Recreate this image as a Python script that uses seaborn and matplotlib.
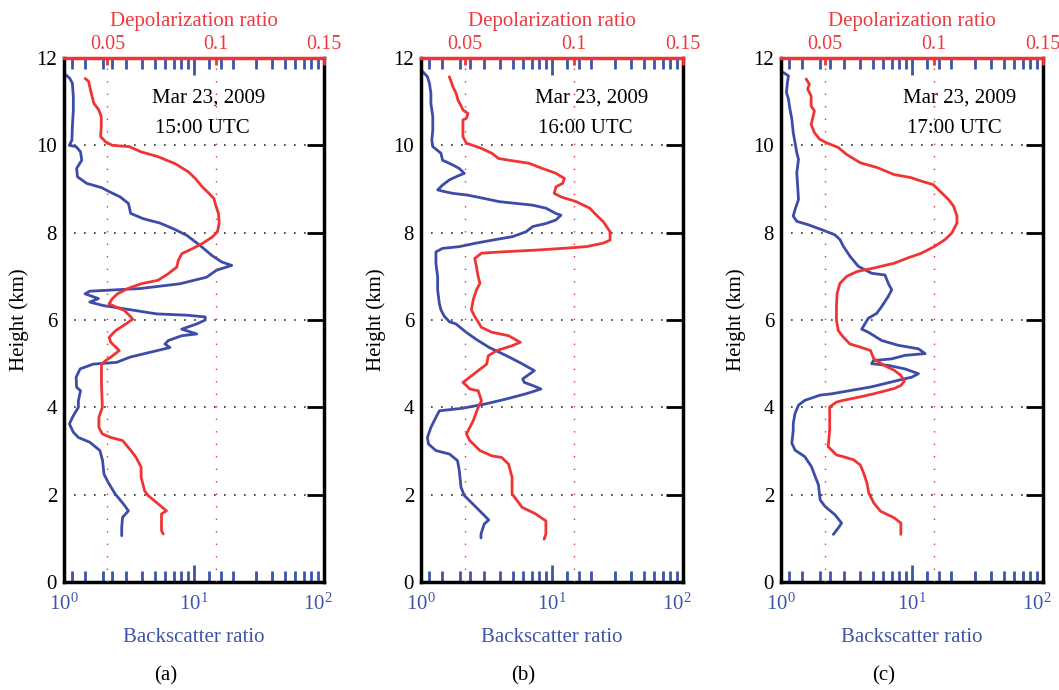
import matplotlib
matplotlib.use("Agg")
import matplotlib.pyplot as plt
import matplotlib.transforms as mtransforms
import seaborn as sns
import pandas as pd
from matplotlib.ticker import FixedLocator, NullFormatter

# ---------------- data ----------------
panel_labels = ["(a)", "(b)", "(c)"]
time_labels = ["15:00 UTC", "16:00 UTC", "17:00 UTC"]
date_label = "Mar 23, 2009"

a_bs_height = [11.63, 11.53, 11.42, 11.11, 10.81, 10.43, 10.12, 10.00, 9.97, 9.85,
               9.66, 9.47, 9.28, 9.13, 9.03, 8.93, 8.82, 8.67, 8.44, 8.32,
               8.22, 8.09, 7.94, 7.71, 7.48, 7.33, 7.25, 7.14, 6.98, 6.83,
               6.72, 6.66, 6.60, 6.49, 6.41, 6.33, 6.26, 6.14, 6.11, 6.07,
               6.00, 5.91, 5.79, 5.68, 5.64, 5.53, 5.45, 5.37, 5.26, 5.15,
               5.03, 4.99, 4.88, 4.69, 4.46, 4.38, 4.15, 4.00, 3.81, 3.62,
               3.43, 3.31, 3.20, 3.01, 2.78, 2.47, 2.28, 2.02, 1.79, 1.63,
               1.48, 1.25, 1.06]
a_backscatter = [1.02, 1.11, 1.16, 1.18, 1.18, 1.16, 1.15, 1.10, 1.24, 1.34,
                 1.37, 1.25, 1.27, 1.49, 1.95, 2.26, 2.70, 3.13, 3.26, 4.07,
                 5.47, 6.93, 8.79, 11.1, 13.7, 16.3, 19.5, 14.9, 12.5, 7.80,
                 3.85, 1.58, 1.45, 1.84, 1.58, 2.01, 2.86, 5.16, 8.79, 12.2,
                 12.2, 10.5, 8.04, 10.5, 8.04, 6.35, 5.98, 6.53, 4.59, 3.22,
                 2.54, 1.68, 1.33, 1.24, 1.25, 1.34, 1.29, 1.29, 1.18, 1.10,
                 1.18, 1.29, 1.58, 1.89, 1.98, 2.03, 2.19, 2.47, 2.86, 3.13,
                 2.82, 2.78, 2.78]
a_dp_height = [11.53, 11.46, 11.27, 11.11, 10.96, 10.81, 10.65, 10.43, 10.20, 10.08,
               10.00, 9.97, 9.85, 9.74, 9.58, 9.39, 9.24, 9.05, 8.90, 8.78,
               8.63, 8.44, 8.21, 8.02, 7.90, 7.75, 7.63, 7.52, 7.37, 7.21,
               7.06, 6.91, 6.83, 6.72, 6.60, 6.49, 6.37, 6.30, 6.22, 6.07,
               6.02, 5.91, 5.76, 5.60, 5.49, 5.30, 5.15, 5.07, 4.99, 4.53,
               4.00, 3.77, 3.54, 3.39, 3.31, 3.24, 3.01, 2.85, 2.63, 2.40,
               2.09, 1.98, 1.82, 1.63, 1.56, 1.18, 1.10]
a_depol = [0.0398, 0.0414, 0.0422, 0.0430, 0.0438, 0.0461, 0.0472, 0.0472, 0.0469, 0.0492,
           0.0523, 0.0602, 0.0656, 0.0734, 0.0813, 0.0875, 0.0906, 0.0938, 0.0969, 0.0992,
           0.1000, 0.1013, 0.1016, 0.1008, 0.0984, 0.0938, 0.0891, 0.0844, 0.0828, 0.0820,
           0.0781, 0.0734, 0.0656, 0.0594, 0.0547, 0.0523, 0.0508, 0.0539, 0.0578, 0.0609,
           0.0617, 0.0586, 0.0539, 0.0508, 0.0516, 0.0555, 0.0516, 0.0492, 0.0473, 0.0473,
           0.0477, 0.0461, 0.0461, 0.0477, 0.0516, 0.0570, 0.0609, 0.0633, 0.0656, 0.0656,
           0.0672, 0.0688, 0.0727, 0.0773, 0.0750, 0.0750, 0.0758]

b_bs_height = [11.69, 11.57, 11.42, 11.19, 10.96, 10.66, 10.35, 10.12, 9.97, 9.82,
               9.66, 9.55, 9.47, 9.36, 9.28, 9.21, 9.09, 8.98, 8.94, 8.90,
               8.86, 8.79, 8.71, 8.67, 8.63, 8.56, 8.44, 8.40, 8.29, 8.21,
               8.14, 8.02, 7.91, 7.83, 7.76, 7.68, 7.64, 7.56, 7.30, 6.99,
               6.69, 6.38, 6.23, 6.08, 5.96, 5.91, 5.72, 5.56, 5.37, 5.26,
               5.15, 4.99, 4.84, 4.65, 4.57, 4.50, 4.42, 4.31, 4.19, 4.08,
               3.98, 3.92, 3.77, 3.54, 3.31, 3.16, 3.01, 2.93, 2.78, 2.55,
               2.17, 1.98, 1.79, 1.56, 1.42, 1.33, 1.10, 1.01]
b_backscatter = [1.03, 1.12, 1.16, 1.19, 1.19, 1.23, 1.23, 1.21, 1.23, 1.42,
                 1.46, 1.75, 1.96, 2.14, 1.85, 1.65, 1.46, 1.34, 1.51, 1.75,
                 2.27, 2.96, 3.96, 5.31, 7.12, 9.00, 10.7, 11.7, 10.7, 9.00,
                 7.12, 6.33, 5.01, 3.52, 2.63, 1.96, 1.46, 1.30, 1.30, 1.34,
                 1.34, 1.38, 1.42, 1.51, 1.65, 1.85, 2.21, 2.63, 3.32, 3.96,
                 4.72, 5.97, 7.33, 5.97, 6.15, 7.12, 8.24, 6.33, 4.46, 3.13,
                 2.08, 1.38, 1.30, 1.19, 1.12, 1.14, 1.30, 1.65, 1.90, 1.96,
                 2.02, 2.14, 2.48, 2.96, 3.29, 3.04, 2.87, 2.87]
b_dp_height = [11.57, 11.46, 11.34, 11.19, 11.04, 10.89, 10.81, 10.73, 10.62, 10.58,
               10.43, 10.20, 10.05, 10.01, 9.93, 9.82, 9.70, 9.66, 9.59, 9.47,
               9.36, 9.24, 9.13, 9.05, 8.90, 8.82, 8.71, 8.56, 8.40, 8.25,
               8.14, 8.02, 7.83, 7.76, 7.68, 7.64, 7.60, 7.56, 7.53, 7.41,
               7.22, 6.99, 6.84, 6.69, 6.46, 6.23, 6.08, 6.02, 5.83, 5.72,
               5.64, 5.49, 5.41, 5.30, 5.18, 4.99, 4.84, 4.69, 4.57, 4.50,
               4.42, 4.38, 4.15, 4.00, 3.69, 3.39, 3.24, 3.01, 2.89, 2.85,
               2.70, 2.40, 2.02, 1.71, 1.56, 1.40, 1.10, 0.98]
b_depol = [0.0430, 0.0438, 0.0446, 0.0461, 0.0469, 0.0485, 0.0492, 0.0515, 0.0508, 0.0492,
           0.0492, 0.0492, 0.0508, 0.0531, 0.0577, 0.0624, 0.0655, 0.0701, 0.0794, 0.0856,
           0.0918, 0.0957, 0.0949, 0.0918, 0.0910, 0.0941, 0.1011, 0.1073, 0.1104, 0.1135,
           0.1150, 0.1166, 0.1166, 0.1135, 0.1057, 0.0949, 0.0825, 0.0670, 0.0577, 0.0546,
           0.0554, 0.0562, 0.0570, 0.0554, 0.0539, 0.0531, 0.0546, 0.0554, 0.0577, 0.0624,
           0.0701, 0.0755, 0.0717, 0.0647, 0.0608, 0.0601, 0.0562, 0.0523, 0.0492, 0.0508,
           0.0523, 0.0562, 0.0577, 0.0562, 0.0539, 0.0508, 0.0523, 0.0570, 0.0624, 0.0670,
           0.0701, 0.0717, 0.0717, 0.0763, 0.0825, 0.0872, 0.0872, 0.0864]

c_bs_height = [11.67, 11.59, 11.44, 11.21, 11.06, 10.83, 10.60, 10.29, 10.06, 9.83,
               9.68, 9.37, 9.07, 8.76, 8.53, 8.38, 8.26, 8.18, 8.07, 7.95,
               7.84, 7.69, 7.46, 7.23, 7.07, 7.03, 6.84, 6.69, 6.54, 6.31,
               6.15, 6.04, 5.79, 5.72, 5.53, 5.42, 5.34, 5.23, 5.19, 5.11,
               5.07, 5.00, 4.96, 4.88, 4.77, 4.69, 4.62, 4.47, 4.39, 4.31,
               4.28, 4.16, 4.05, 3.86, 3.63, 3.48, 3.18, 3.02, 2.87, 2.64,
               2.42, 2.23, 1.88, 1.73, 1.54, 1.35, 1.24, 1.09]
c_backscatter = [1.04, 1.14, 1.12, 1.10, 1.14, 1.17, 1.21, 1.24, 1.28, 1.32,
                 1.36, 1.32, 1.34, 1.36, 1.28, 1.24, 1.32, 1.62, 2.04, 2.58,
                 2.82, 2.99, 3.36, 3.89, 4.92, 6.22, 6.59, 7.00, 6.59, 5.87,
                 5.37, 4.64, 4.13, 4.64, 5.87, 7.87, 11.2, 12.6, 8.84, 7.00,
                 5.07, 4.92, 6.59, 8.84, 11.2, 9.94, 7.87, 4.92, 3.46, 2.44,
                 1.99, 1.52, 1.36, 1.28, 1.24, 1.24, 1.21, 1.28, 1.52, 1.71,
                 1.82, 1.93, 1.99, 2.17, 2.58, 2.90, 2.74, 2.51]
c_dp_height = [11.52, 11.40, 11.29, 11.13, 10.90, 10.79, 10.64, 10.48, 10.29, 10.14,
               10.06, 9.95, 9.79, 9.60, 9.49, 9.33, 9.26, 9.18, 9.10, 8.99,
               8.76, 8.61, 8.38, 8.22, 7.99, 7.84, 7.69, 7.53, 7.42, 7.30,
               7.19, 7.11, 7.00, 6.84, 6.61, 6.31, 6.00, 5.76, 5.61, 5.45,
               5.38, 5.30, 5.11, 4.96, 4.85, 4.73, 4.60, 4.50, 4.43, 4.31,
               4.24, 4.16, 4.12, 4.01, 3.71, 3.48, 3.10, 2.91, 2.87, 2.80,
               2.68, 2.49, 2.26, 2.04, 1.81, 1.62, 1.47, 1.35, 1.09]
c_depol = [0.0415, 0.0430, 0.0422, 0.0438, 0.0438, 0.0453, 0.0446, 0.0438, 0.0453, 0.0477,
           0.0508, 0.0562, 0.0601, 0.0663, 0.0741, 0.0818, 0.0896, 0.0943, 0.0997, 0.1020,
           0.1067, 0.1090, 0.1106, 0.1106, 0.1082, 0.1051, 0.1005, 0.0943, 0.0880, 0.0818,
           0.0725, 0.0648, 0.0601, 0.0570, 0.0557, 0.0554, 0.0554, 0.0562, 0.0585, 0.0616,
           0.0663, 0.0710, 0.0725, 0.0772, 0.0818, 0.0849, 0.0865, 0.0849, 0.0818, 0.0725,
           0.0663, 0.0585, 0.0554, 0.0523, 0.0523, 0.0523, 0.0516, 0.0554, 0.0585, 0.0632,
           0.0663, 0.0679, 0.0694, 0.0702, 0.0725, 0.0756, 0.0818, 0.0849, 0.0849]

height_ticks = [0, 2, 4, 6, 8, 10, 12]
bs_major_ticks = [1, 10, 100]
bs_tick_labels = [r"$10^0$", r"$10^1$", r"$10^2$"]
bs_minor_ticks = [1.15, 1.45, 2, 2.35, 3, 4, 5, 6, 7, 8, 9,
                  13, 16, 20, 30, 40, 50, 60, 70, 80, 90]
dp_ticks = [0.05, 0.1, 0.15]
dp_tick_labels = ["0.05", "0.1", "0.15"]

panels = [
    (a_bs_height, a_backscatter, a_dp_height, a_depol),
    (b_bs_height, b_backscatter, b_dp_height, b_depol),
    (c_bs_height, c_backscatter, c_dp_height, c_depol),
]

# ---------------- style ----------------
sns.set_theme(style="white")
plt.rcParams["font.family"] = ["Liberation Serif", "DejaVu Serif"]
plt.rcParams["mathtext.fontset"] = "custom"
plt.rcParams["mathtext.rm"] = "Liberation Serif"
plt.rcParams["mathtext.it"] = "Liberation Serif:italic"

LINE_BLUE = "#3c4ca8"
TEXT_BLUE = "#3d55a8"
LINE_RED = "#f03434"
TEXT_RED = "#ee3a3e"
FS = 15

fig = plt.figure(figsize=(10.59, 6.90), dpi=100)
lefts_px = [64, 421, 781]
widths_px = [260, 262, 262]
text_x = [(0.338, 0.350), (0.435, 0.447), (0.466, 0.481)]

for i, (hb, bs, hd, dp) in enumerate(panels):
    ax = fig.add_axes([lefts_px[i] / 1059, 108 / 690, widths_px[i] / 1059, 524 / 690])
    ax.set_xscale("log")
    df_b = pd.DataFrame({"Backscatter ratio": bs, "Height": hb})
    sns.lineplot(data=df_b, x="Backscatter ratio", y="Height", ax=ax, sort=False,
                 estimator=None, color=LINE_BLUE, linewidth=2.0)
    ax.set_xlim(1, 100)
    ax.set_ylim(0, 12)

    axt = ax.twiny()
    df_d = pd.DataFrame({"Depolarization ratio": dp, "Height": hd})
    sns.lineplot(data=df_d, x="Depolarization ratio", y="Height", ax=axt, sort=False,
                 estimator=None, color=LINE_RED, linewidth=2.0)
    axt.set_xlim(0.03, 0.15)
    axt.set_ylim(0, 12)

    # backscatter axis (bottom + mirrored top ticks)
    ax.set_xticks(bs_major_ticks)
    ax.set_xticklabels(bs_tick_labels)
    ax.xaxis.set_minor_locator(FixedLocator(bs_minor_ticks))
    ax.xaxis.set_minor_formatter(NullFormatter())
    ax.tick_params(axis="x", which="both", bottom=True, top=True, direction="in",
                   color=TEXT_BLUE, width=2, labelcolor=TEXT_BLUE, labelsize=FS, pad=8.5)
    ax.tick_params(axis="x", which="major", length=12)
    ax.tick_params(axis="x", which="minor", length=8)
    ax.set_xlabel("Backscatter ratio", color=TEXT_BLUE, fontsize=FS, labelpad=9)
    # the last decade label sits a little to the left of its tick in the original
    last_lbl = ax.get_xticklabels()[-1]
    last_lbl.set_transform(last_lbl.get_transform() +
                           mtransforms.ScaledTranslation(-6 / 100, 0, fig.dpi_scale_trans))

    # height axis
    ax.set_yticks(height_ticks)
    ax.tick_params(axis="y", left=False, right=True, labelleft=True, labelright=False,
                   direction="in", length=12, width=2, color="black",
                   labelsize=FS, pad=5, labelcolor="black")
    ax.set_ylabel("Height (km)", fontsize=FS, labelpad=5, color="black")
    ax.grid(axis="y", color="#333333", linestyle=(0, (1, 5)), linewidth=1.2)
    ax.grid(axis="x", visible=False)

    for s in ["left", "bottom", "right"]:
        ax.spines[s].set_color("black")
        ax.spines[s].set_linewidth(2.5)
        ax.spines[s].set_visible(True)
    ax.spines["top"].set_visible(False)

    # depolarization axis on top
    axt.set_xticks(dp_ticks)
    axt.set_xticklabels(dp_tick_labels)
    axt.tick_params(axis="x", which="major", top=True, bottom=False, direction="in",
                    length=5, width=2, color=LINE_RED, labelcolor=TEXT_RED,
                    labelsize=FS - 0.5, pad=3)
    axt.xaxis.set_minor_locator(FixedLocator([]))
    axt.grid(axis="x", color=LINE_RED, linestyle=(0, (1, 8)), linewidth=1.0)
    axt.set_xlabel("Depolarization ratio", color=TEXT_RED, fontsize=FS, labelpad=6)
    axt.set_ylabel("")
    for s in ["left", "bottom", "right"]:
        axt.spines[s].set_visible(False)
    axt.spines["top"].set_visible(True)
    axt.spines["top"].set_color(LINE_RED)
    axt.spines["top"].set_linewidth(2.5)

    # annotations
    ax.text(text_x[i][0], 0.924, date_label, transform=ax.transAxes, fontsize=FS,
            ha="left", va="center", color="black")
    ax.text(text_x[i][1], 0.865, time_labels[i], transform=ax.transAxes, fontsize=FS,
            ha="left", va="center", color="black")
    ax.text(0.39, -0.179, panel_labels[i], transform=ax.transAxes, fontsize=FS,
            ha="center", va="center", color="black")

fig.savefig("out.png", dpi=100)
